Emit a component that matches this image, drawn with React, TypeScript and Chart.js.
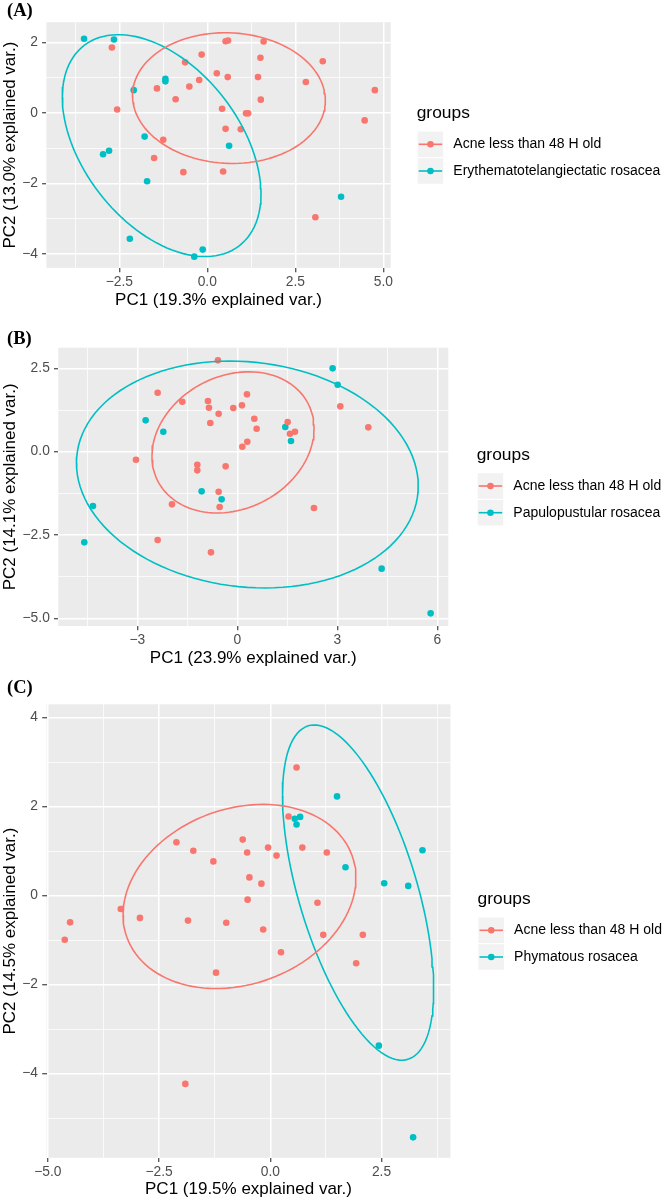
import React, { useEffect, useRef } from "react";
import { Chart, registerables } from "chart.js";

Chart.register(...registerables);

const RED = "#F8766D";
const CYAN = "#00BFC4";
const FONT = "'Liberation Sans', Arial, Helvetica, sans-serif";

// ---------------- Panel A data ----------------
const groupsA = ["Acne less than 48 H old", "Erythematotelangiectatic rosacea"];
const acneAX = [-2.71, -2.56, -1.43, -0.9, -0.63, -0.51, -0.23, -0.16, 0.27, 0.52, 0.59, 0.58, 0.42, 0.52, 0.95, 1.1, 1.16, 1.44, 1.51, 1.52, 1.6, 2.8, 3.28, 4.76, 4.47, -1.25, -1.51, -0.68, 0.45, 3.07];
const acneAY = [1.86, 0.1, 0.7, 0.39, 1.44, 0.75, 0.94, 1.66, 1.13, 2.04, 2.06, 1.02, 0.12, -0.45, -0.46, -0.01, -0.01, 1.02, 1.57, 0.38, 2.03, 0.88, 1.47, 0.65, -0.21, -0.76, -1.28, -1.68, -1.66, -2.96];
const rosAX = [-3.5, -2.65, -2.09, -1.19, -1.19, -2.96, -2.79, -1.78, 0.62, -1.71, 3.8, -2.2, -0.13, -0.37];
const rosAY = [2.11, 2.09, 0.65, 0.97, 0.9, -1.17, -1.07, -0.67, -0.93, -1.94, -2.38, -3.57, -3.88, -4.08];
const xMajorA = [-2.5, 0, 2.5, 5];
const xLabelsA = ["\u22122.5", "0.0", "2.5", "5.0"];
const xMinorA = [-3.75, -1.25, 1.25, 3.75];
const yMajorA = [-4, -2, 0, 2];
const yLabelsA = ["\u22124", "\u22122", "0", "2"];
const yMinorA = [-3, -1, 1];

// ---------------- Panel B data ----------------
const groupsB = ["Acne less than 48 H old", "Papulopustular rosacea"];
const acneBX = [-0.58, -2.39, -1.65, -0.88, -0.85, -0.56, -0.81, -0.12, 0.14, 0.29, 0.51, 0.58, 0.3, 0.15, 1.51, 1.58, 1.73, 3.09, 3.93, -3.04, -1.2, -1.2, -0.35, -0.56, -0.53, -1.96, -2.39, -0.79, 2.3];
const acneBY = [2.74, 1.77, 1.5, 1.52, 1.32, 1.14, 0.86, 1.31, 1.39, 1.72, 0.99, 0.69, 0.3, 0.15, 0.89, 0.54, 0.6, 1.36, 0.73, -0.24, -0.39, -0.56, -0.44, -1.2, -1.66, -1.58, -2.65, -3.02, -1.69];
const rosBX = [-2.75, -2.22, 1.44, 1.61, 2.86, 3.01, -1.07, -0.47, -4.33, -4.59, 4.33, 5.8];
const rosBY = [0.94, 0.6, 0.74, 0.32, 2.5, 2.01, -1.19, -1.43, -1.63, -2.72, -3.51, -4.85];
const xMajorB = [-3, 0, 3, 6];
const xLabelsB = ["\u22123", "0", "3", "6"];
const xMinorB = [-4.5, -1.5, 1.5, 4.5];
const yMajorB = [-5, -2.5, 0, 2.5];
const yLabelsB = ["\u22125.0", "\u22122.5", "0.0", "2.5"];
const yMinorB = [-3.75, -1.25, 1.25];

// ---------------- Panel C data ----------------
const groupsC = ["Acne less than 48 H old", "Phymatous rosacea"];
const acneCX = [0.59, 0.41, -2.11, -1.73, -1.28, -0.62, -0.52, -0.05, 0.14, 0.72, 1.27, -0.47, -0.2, -0.51, 1.06, -3.36, -4.5, -4.62, -2.93, -1.85, -0.99, -0.16, 1.19, 2.08, 0.24, 1.93, -1.22, -1.91];
const acneCY = [2.88, 1.78, 1.2, 1.01, 0.77, 1.26, 0.97, 1.08, 0.9, 1.08, 0.97, 0.41, 0.27, -0.09, -0.16, -0.3, -0.6, -0.99, -0.5, -0.56, -0.61, -0.76, -0.88, -0.88, -1.27, -1.52, -1.73, -4.23];
const rosCX = [1.5, 0.55, 0.67, 0.59, 1.69, 2.56, 3.1, 3.42, 2.44, 3.21];
const rosCY = [2.23, 1.73, 1.77, 1.6, 0.64, 0.28, 0.22, 1.02, -3.37, -5.43];
const xMajorC = [-5, -2.5, 0, 2.5];
const xLabelsC = ["\u22125.0", "\u22122.5", "0.0", "2.5"];
const xMinorC = [-3.75, -1.25, 1.25, 3.75];
const yMajorC = [-4, -2, 0, 2, 4];
const yLabelsC = ["\u22124", "\u22122", "0", "2", "4"];
const yMinorC = [-5, -3, -1, 1, 3];

const ELLIPSE_PROB = 0.68;
const ED = Math.sqrt(-2 * Math.log(1 - ELLIPSE_PROB)); // sqrt(qchisq(p, 2))

function ellipsePath(xs: number[], ys: number[]) {
  const n = xs.length;
  const mx = xs.reduce((a, b) => a + b, 0) / n;
  const my = ys.reduce((a, b) => a + b, 0) / n;
  let sxx = 0, syy = 0, sxy = 0;
  for (let i = 0; i < n; i++) {
    const dx = xs[i] - mx, dy = ys[i] - my;
    sxx += dx * dx; syy += dy * dy; sxy += dx * dy;
  }
  sxx /= n - 1; syy /= n - 1; sxy /= n - 1;
  const r11 = Math.sqrt(sxx), r12 = sxy / r11, r22 = Math.sqrt(Math.max(syy - r12 * r12, 0));
  const out: { x: number; y: number }[] = [];
  for (let i = 0; i <= 120; i++) {
    const t = -Math.PI + (2 * Math.PI * i) / 120;
    const c = Math.cos(t), s = Math.sin(t);
    out.push({ x: mx + ED * c * r11, y: my + ED * (c * r12 + s * r22) });
  }
  return out;
}

type Spec = {
  letter: string;
  letterY: number;
  canvasTop: number;
  canvasH: number;
  area: { left: number; right: number; top: number; bottom: number };
  xLim: [number, number];
  yLim: [number, number];
  xMajor: number[]; xMinor: number[]; xLabels: string[];
  yMajor: number[]; yMinor: number[]; yLabels: string[];
  xTitle: string; yTitle: string; xTitlePad: number;
  groups: string[];
  g1x: number[]; g1y: number[]; g2x: number[]; g2y: number[];
  legendX: number; legendY: number;
};

const specs: Spec[] = [
  {
    letter: "(A)", letterY: 11.5, canvasTop: 0, canvasH: 312,
    area: { left: 46.4, right: 390.7, top: 22.2, bottom: 267.9 },
    xLim: [-4.57, 5.21], yLim: [-4.4, 2.58],
    xMajor: xMajorA, xMinor: xMinorA, xLabels: xLabelsA,
    yMajor: yMajorA, yMinor: yMinorA, yLabels: yLabelsA,
    xTitle: "PC1 (19.3% explained var.)", yTitle: "PC2 (13.0% explained var.)", xTitlePad: 1.8,
    groups: groupsA, g1x: acneAX, g1y: acneAY, g2x: rosAX, g2y: rosAY,
    legendX: 416.7, legendY: 113.3,
  },
  {
    letter: "(B)", letterY: 339.7, canvasTop: 312, canvasH: 360,
    area: { left: 58.3, right: 448.3, top: 347.7, bottom: 626.0 },
    xLim: [-5.37, 6.33], yLim: [-5.23, 3.12],
    xMajor: xMajorB, xMinor: xMinorB, xLabels: xLabelsB,
    yMajor: yMajorB, yMinor: yMinorB, yLabels: yLabelsB,
    xTitle: "PC1 (23.9% explained var.)", yTitle: "PC2 (14.1% explained var.)", xTitlePad: 3.8,
    groups: groupsB, g1x: acneBX, g1y: acneBY, g2x: rosBX, g2y: rosBY,
    legendX: 476.7, legendY: 455,
  },
  {
    letter: "(C)", letterY: 688.3, canvasTop: 672, canvasH: 528,
    area: { left: 46.5, right: 450.5, top: 704.3, bottom: 1157.8 },
    xLim: [-5.03, 4.05], yLim: [-5.89, 4.3],
    xMajor: xMajorC, xMinor: xMinorC, xLabels: xLabelsC,
    yMajor: yMajorC, yMinor: yMinorC, yLabels: yLabelsC,
    xTitle: "PC1 (19.5% explained var.)", yTitle: "PC2 (14.5% explained var.)", xTitlePad: 0,
    groups: groupsC, g1x: acneCX, g1y: acneCY, g2x: rosCX, g2y: rosCY,
    legendX: 477.5, legendY: 899.3,
  },
];

function Panel({ spec }: { spec: Spec }) {
  const ref = useRef<HTMLCanvasElement>(null);
  useEffect(() => {
    const canvas = ref.current!;
    const s = spec;
    const T = s.canvasTop;
    const pts = (xs: number[], ys: number[]) => xs.map((x, i) => ({ x, y: ys[i] }));

    const mkScale = (min: number, max: number, major: number[], minor: number[], labels: string[], isX: boolean, title: string) => ({
      type: "linear",
      position: isX ? "bottom" : "left",
      min, max, bounds: "data",
      afterBuildTicks: (sc: any) => {
        sc.ticks = [...major, ...minor].sort((a, b) => a - b).map((v) => ({ value: v }));
      },
      afterFit: (sc: any) => {
        if (isX) sc.height = T + s.canvasH - s.area.bottom;
        else sc.width = s.area.left;
      },
      grid: {
        color: "#FFFFFF",
        lineWidth: (ctx: any) => (ctx.tick && major.indexOf(ctx.tick.value) >= 0 ? 1.5 : 0.75),
        drawTicks: true,
        tickLength: 4.3,
        tickWidth: 1.1,
        tickColor: (ctx: any) => (ctx.tick && major.indexOf(ctx.tick.value) >= 0 ? "#333333" : "rgba(0,0,0,0)"),
      },
      border: { display: false },
      ticks: {
        autoSkip: false, maxRotation: 0, minRotation: 0,
        padding: isX ? 2.8 : 4.2,
        color: "#4D4D4D",
        font: { family: FONT, size: 13.8, lineHeight: 1 },
        callback: (v: number) => {
          const i = major.indexOf(v);
          return i >= 0 ? labels[i] : "";
        },
      },
      title: {
        display: true, text: title, color: "#000000",
        font: { family: FONT, size: 17 },
        padding: isX ? { top: 0, bottom: s.xTitlePad } : { top: 0, bottom: 0 },
      },
    });

    const bgPlugin = {
      id: "panelBg",
      beforeDraw(chart: any) {
        const { ctx, chartArea } = chart;
        ctx.save();
        ctx.fillStyle = "#EBEBEB";
        ctx.fillRect(chartArea.left, chartArea.top, chartArea.right - chartArea.left, chartArea.bottom - chartArea.top);
        ctx.restore();
      },
    };

    const legendPlugin = {
      id: "ggLegend",
      afterDraw(chart: any) {
        const ctx = chart.ctx;
        ctx.save();
        ctx.fillStyle = "#000";
        ctx.textBaseline = "middle";
        ctx.textAlign = "left";
        ctx.font = "bold 18.5px 'Liberation Serif', 'Times New Roman', serif";
        ctx.fillText(s.letter, 7, s.letterY - T);
        const lx = s.legendX, ly = s.legendY - T;
        ctx.font = `17.4px ${FONT}`;
        ctx.fillText("groups", lx, ly);
        const cols = [RED, CYAN];
        const offs = [31, 57.7];
        for (let i = 0; i < 2; i++) {
          const cy = ly + offs[i];
          const k = 25.5;
          ctx.fillStyle = "#F2F2F2";
          ctx.fillRect(lx + 1, cy - k / 2, k, k);
          ctx.strokeStyle = cols[i];
          ctx.lineWidth = 1.6;
          ctx.beginPath();
          ctx.moveTo(lx + 2, cy);
          ctx.lineTo(lx + k, cy);
          ctx.stroke();
          ctx.fillStyle = cols[i];
          ctx.beginPath();
          ctx.arc(lx + 1 + k / 2, cy, 3.3, 0, Math.PI * 2);
          ctx.fill();
          ctx.fillStyle = "#000";
          ctx.font = `14px ${FONT}`;
          ctx.fillText(s.groups[i], lx + 36.6, cy);
        }
        ctx.restore();
      },
    };

    const chart = new Chart(canvas, {
      type: "scatter",
      data: {
        datasets: [
          { label: s.groups[0] + " ellipse", data: ellipsePath(s.g1x, s.g1y), showLine: true, pointRadius: 0, borderColor: RED, borderWidth: 1.6, fill: false, tension: 0 },
          { label: s.groups[1] + " ellipse", data: ellipsePath(s.g2x, s.g2y), showLine: true, pointRadius: 0, borderColor: CYAN, borderWidth: 1.6, fill: false, tension: 0 },
          { label: s.groups[0], data: pts(s.g1x, s.g1y), pointRadius: 3.3, pointBackgroundColor: RED, pointBorderWidth: 0, borderWidth: 0, backgroundColor: RED },
          { label: s.groups[1], data: pts(s.g2x, s.g2y), pointRadius: 3.3, pointBackgroundColor: CYAN, pointBorderWidth: 0, borderWidth: 0, backgroundColor: CYAN },
        ],
      } as any,
      options: {
        animation: false,
        responsive: false,
        devicePixelRatio: 1,
        events: [],
        layout: {
          autoPadding: false,
          padding: { left: 0, top: s.area.top - T, right: 665 - s.area.right, bottom: 0 },
        },
        plugins: { legend: { display: false }, tooltip: { enabled: false } },
        scales: {
          x: mkScale(s.xLim[0], s.xLim[1], s.xMajor, s.xMinor, s.xLabels, true, s.xTitle),
          y: mkScale(s.yLim[0], s.yLim[1], s.yMajor, s.yMinor, s.yLabels, false, s.yTitle),
        },
      } as any,
      plugins: [bgPlugin, legendPlugin],
    });
    return () => chart.destroy();
  }, [spec]);
  return (
    <canvas
      ref={ref}
      width={665}
      height={spec.canvasH}
      style={{ position: "absolute", left: 0, top: spec.canvasTop, width: 665, height: spec.canvasH }}
    />
  );
}

export default function App() {
  return (
    <div style={{ position: "absolute", left: 0, top: 0, width: 665, height: 1200, background: "#FFFFFF" }}>
      {specs.map((sp) => (
        <Panel key={sp.letter} spec={sp} />
      ))}
    </div>
  );
}
